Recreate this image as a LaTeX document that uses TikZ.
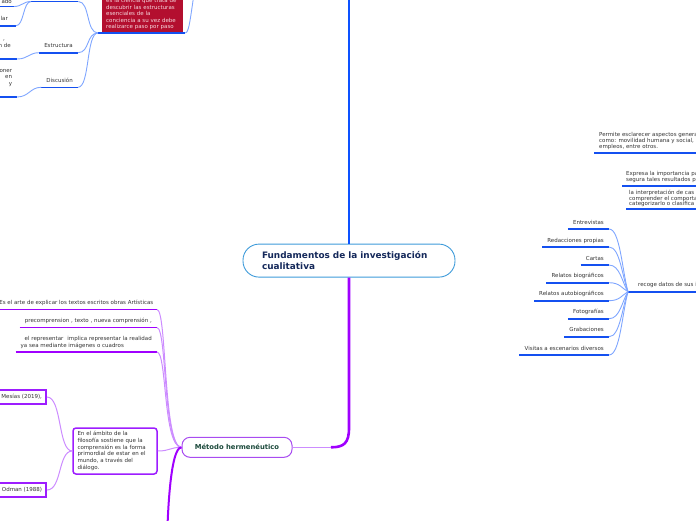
\documentclass[tikz,border=0pt]{standalone}
\usepackage{fontspec}
\setmainfont{DejaVu Sans}
\definecolor{bl}{HTML}{1450F0}
\definecolor{btr}{HTML}{0D52FF}
\definecolor{blc}{HTML}{7FA6FF}
\definecolor{pu}{HTML}{A000FF}
\definecolor{puc}{HTML}{CC8CFF}
\definecolor{pbd}{HTML}{9D1DFF}
\definecolor{mbd}{HTML}{A84CF0}
\definecolor{rd}{HTML}{B30F2F}
\definecolor{rdt}{HTML}{F5D8DE}
\definecolor{txt}{HTML}{333333}
\definecolor{cbord}{HTML}{3E9BDA}
\definecolor{ctext}{HTML}{14285A}
\definecolor{mtext}{HTML}{1C4A3C}
\tikzset{
  sm/.style={font=\fontsize{5.5}{6.6}\selectfont, text=txt, inner xsep=5pt, inner ysep=3.5pt, text depth=1.2pt},
  ulb/.style={append after command={(\tikzlastnode.south west) edge[draw=bl, line width=1.6pt] (\tikzlastnode.south east)}},
  ulp/.style={append after command={(\tikzlastnode.south west) edge[draw=pu, line width=1.6pt] (\tikzlastnode.south east)}},
  ulline/.style={draw=bl, line width=1.6pt},
  bcon/.style={draw=blc, line width=0.9pt},
  pcon/.style={draw=puc, line width=1pt},
  pbox/.style={draw=pbd, line width=2pt, fill=white, font=\fontsize{5.5}{6.6}\selectfont, text=txt, inner xsep=4pt, minimum height=14pt},
}
\begin{document}
\begin{tikzpicture}[x=1pt,y=-1pt]
\useasboundingbox (0,0) rectangle (696,520);
% central node
\node[draw=cbord, line width=0.9pt, fill=white, rounded corners=16pt, minimum width=212pt, minimum height=33pt, text width=174pt, inner xsep=19pt, align=left, font=\fontsize{8.9}{11}\selectfont\bfseries, text=ctext] (c) at (349,260.6) {Fundamentos de la investigación\\cualitativa};
\coordinate (topc) at (349,-10);
\draw[draw=btr, line width=2.6pt] (c.north) -- (topc);
% Metodo hermeneutico
\node[draw=mbd, line width=1pt, fill=white, rounded corners=8pt, minimum width=110pt, minimum height=20pt, font=\fontsize{6.8}{8}\selectfont\bfseries, text=mtext] (m) at (237,447.3) {Método hermenéutico};
\coordinate (pk) at (331,447.3);
\draw[draw=pu, line width=2.6pt] (c.south) -- (349,428) .. controls (349,443) and (344,447.3) .. (pk);
\draw[pcon] (pk) -- (m.east);

% ---------- top-left blue branch ----------
\node[fill=rd, text=rdt, font=\fontsize{5.5}{6.5}\selectfont, text width=73pt, align=left, inner xsep=4pt, inner ysep=1.8pt, anchor=south west] (rb) at (102,32) {es la ciencia que trata de\\descubrir las estructuras\\esenciales de la\\conciencia a su vez debe\\realizarce paso por paso\rule[-1.2pt]{0pt}{1pt}};
\coordinate (rbw) at ([xshift=-4pt,yshift=-1pt]rb.south west);
\coordinate (rbe) at ([xshift=2pt,yshift=-1pt]rb.south east);
\draw[ulline] (rbw) -- (rbe);
\coordinate (up1) at (198,-30);
\draw[bcon] (rbe) .. controls (190,33) and (191,8) .. (up1);

\node[ulb, anchor=south west, minimum width=47pt, minimum height=6pt, inner sep=0pt] (t0) at (31,1.5) {};
\node[sm, ulb, anchor=south east, inner xsep=2pt, inner ysep=1.5pt] (ado) at (14,6.5) {ado};
\node[sm, ulb, anchor=south east] (lar) at (16,25.7) {lar\hspace*{3pt}};
\node[sm, ulb, anchor=south east, minimum width=38pt] (est) at (78,52.7) {Estructura};
\node[sm, ulb, anchor=south east, align=right, inner xsep=6pt] (nde) at (17,59) {,\hspace*{6pt}\\n de\\\mbox{}};
\node[sm, ulb, anchor=south east, minimum width=36pt] (dis) at (78,87.3) {Discusión};
\node[sm, ulb, anchor=south east, align=right, inner xsep=4.7pt] (oner) at (17,97) {oner\\en\hspace*{3.3pt}\\y\hspace*{7.3pt}\\\mbox{}};

\draw[bcon] (t0.south east) .. controls (90,1.5) and (86,33) .. (rbw);
\draw[bcon] (est.south east) .. controls (90,52.7) and (86,33) .. (rbw);
\draw[bcon] (dis.south east) .. controls (90,87.3) and (86,33) .. (rbw);
\draw[bcon] (ado.south east) .. controls (22,6.5) and (23,1.5) .. (t0.south west);
\draw[bcon] (lar.south east) .. controls (24,25.7) and (23,1.5) .. (t0.south west);
\draw[bcon] (nde.south east) .. controls (28,59) and (29,52.7) .. (est.south west);
\draw[bcon] (oner.south east) .. controls (29,97) and (30,87.3) .. (dis.south west);

% ---------- right blue branch ----------
\node[sm, font=\fontsize{5.5}{6.3}\selectfont, anchor=south west, align=left, inner ysep=3pt] (p1) at (594,153) {Permite esclarecer aspectos genera\\como: movilidad humana y social,\\empleos, entre otros.};
\draw[ulline] (p1.south west) -- ++(120,0);
\node[sm, font=\fontsize{5.5}{5.8}\selectfont, anchor=south west, align=left, inner xsep=4pt] (p2) at (622,186) {Expresa la importancia pa\\segura tales resultados p};
\draw[ulline] (p2.south west) -- ++(100,0);
\node[sm, font=\fontsize{5.5}{5.6}\selectfont, anchor=south west, align=left, inner xsep=3pt, inner ysep=2pt] (p3) at (626,209) {la interpretación de cas\\comprender el comporta\\categorizarlo o clasifica};
\draw[ulline] (p3.south west) -- ++(100,0);

\node[sm, anchor=south west, inner xsep=10pt] (rec) at (628,291.7) {recoge datos de sus i};
\draw[ulline] (rec.south west) -- ++(90,0);

\node[sm, ulb, anchor=south east] (r1) at (609,229) {Entrevistas};
\node[sm, ulb, anchor=south east] (r2) at (609,247) {Redacciones propias};
\node[sm, ulb, anchor=south east] (r3) at (609,265) {Cartas};
\node[sm, ulb, anchor=south east] (r4) at (609,282.7) {Relatos biográficos};
\node[sm, ulb, anchor=south east] (r5) at (609,300.7) {Relatos autobiográficos};
\node[sm, ulb, anchor=south east] (r6) at (609,318.7) {Fotografías};
\node[sm, ulb, anchor=south east] (r7) at (609,336.7) {Grabaciones};
\node[sm, ulb, anchor=south east] (r8) at (609,355) {Visitas a escenarios diversos};
\draw[bcon] (r1.south east) .. controls (620,229) and (622,269.8) .. (rec.south west);
\draw[bcon] (r2.south east) .. controls (620,247) and (622,276.1) .. (rec.south west);
\draw[bcon] (r3.south east) .. controls (620,265) and (622,282.4) .. (rec.south west);
\draw[bcon] (r4.south east) .. controls (620,282.7) and (622,288.5) .. (rec.south west);
\draw[bcon] (r5.south east) .. controls (620,300.7) and (622,294.9) .. (rec.south west);
\draw[bcon] (r6.south east) .. controls (620,318.7) and (622,301.1) .. (rec.south west);
\draw[bcon] (r7.south east) .. controls (620,336.7) and (622,307.5) .. (rec.south west);
\draw[bcon] (r8.south east) .. controls (620,355) and (622,313.9) .. (rec.south west);

% ---------- purple branch ----------
\node[sm, ulp, anchor=south east, inner xsep=3.5pt] (e1) at (157,309.5) {Es el arte de explicar los textos escritos obras Artísticas};
\node[sm, ulp, anchor=south east] (e2) at (157,327.6) {precomprension , texto , nueva comprensión ,};
\node[sm, ulp, anchor=south east, align=left] (e3) at (157,352) {\hspace*{4pt}el representar\hspace{4pt}implica representar la realidad\\ya sea mediante imágenes o cuadros};
\draw[pcon] (e1.south east) .. controls (167,309.5) and (163,447.3) .. (m.west);
\draw[pcon] (e2.south east) .. controls (167,327.6) and (163,447.3) .. (m.west);
\draw[pcon] (e3.south east) .. controls (167,352) and (163,447.3) .. (m.west);

\node[draw=pbd, line width=1.5pt, fill=white, rounded corners=3pt, minimum width=84pt, minimum height=46pt, text width=75pt, inner xsep=4.5pt, align=left, font=\fontsize{5.5}{6.7}\selectfont, text=txt] (amb) at (115,451) {En el ámbito de la\\filosofía sostiene que la\\comprensión es la forma\\primordial de estar en el\\mundo, a través del\\diálogo.};
\draw[pcon] (amb.east) .. controls (170,451) and (170,447.3) .. (m.west);

\node[pbox, anchor=east] (mes) at (47,397) {Mesías (2019),};
\node[pbox, anchor=east] (odm) at (47,490) {Odman (1988)};
\draw[pcon] (mes.east) .. controls (62,397) and (58,451) .. (amb.west);
\draw[pcon] (odm.east) .. controls (62,490) and (58,451) .. (amb.west);

\coordinate (bot) at (167,540);
\draw[draw=pu, line width=2pt] (m.west) .. controls (175,447.3) and (169,470) .. (bot);
\end{tikzpicture}
\end{document}
